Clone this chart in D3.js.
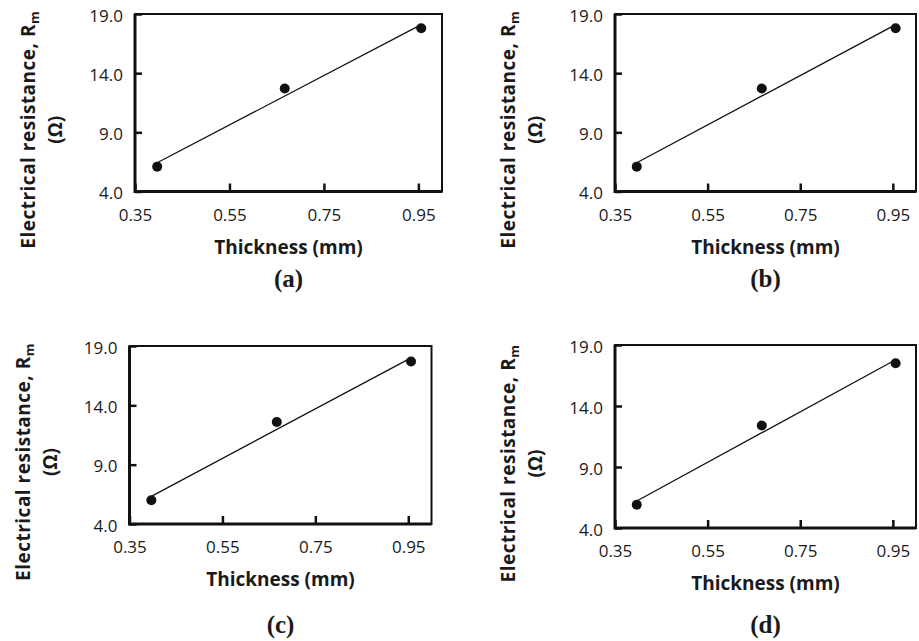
<!DOCTYPE html>
<html>
<head>
<meta charset="utf-8">
<script src="https://cdn.jsdelivr.net/npm/d3@7"></script>
<style>
    body { margin: 0; background: #fff; }
    text { fill: #1a1a1a; }
    .tick-label { font-family: "Open Sans", sans-serif; font-size: 17px; }
    .axis-title { font-family: "Open Sans", sans-serif; font-size: 19px; font-weight: bold; }
    .y-title { letter-spacing: 0.5px; }
    .panel-letter { font-family: "Liberation Serif", serif; font-size: 25px; font-weight: bold; }
</style>
</head>
<body>
<div id="chart"></div>
<script>
// data
var thickness = [0.397, 0.667, 0.956];
var resistanceA = [6.1, 12.7, 17.8];
var resistanceB = [6.1, 12.7, 17.8];
var resistanceC = [6.0, 12.6, 17.7];
var resistanceD = [5.9, 12.4, 17.5];
var xTicks = [0.35, 0.55, 0.75, 0.95];
var yTicks = [4.0, 9.0, 14.0, 19.0];
var panelLetters = ["(a)", "(b)", "(c)", "(d)"];

var w = 919;
var h = 641;

// layout of the four plot areas
var panels = [
    { values: resistanceA, left: 135, right: 442, top: 14, bottom: 191.5, letterY: 287 },
    { values: resistanceB, left: 615, right: 916, top: 14, bottom: 191.5, letterY: 287 },
    { values: resistanceC, left: 129.5, right: 431.5, top: 346, bottom: 524, letterY: 633 },
    { values: resistanceD, left: 615, right: 916, top: 345, bottom: 528, letterY: 633 }
];

var svg = d3.select("#chart")
    .append("svg")
    .attr("width", w)
    .attr("height", h);

panels.forEach(function(p, i) {
    var xScale = d3.scaleLinear().domain([0.35, 1.0]).range([p.left, p.right]);
    var yScale = d3.scaleLinear().domain([4, 19]).range([p.bottom, p.top]);
    var g = svg.append("g");

    // frame (top and right)
    g.append("rect")
        .attr("x", p.left)
        .attr("y", p.top)
        .attr("width", p.right - p.left)
        .attr("height", p.bottom - p.top)
        .attr("fill", "none")
        .attr("stroke", "#111")
        .attr("stroke-width", 2);

    // x axis with inward ticks
    var xAxis = d3.axisBottom(xScale)
        .tickValues(xTicks)
        .tickSize(-8)
        .tickFormat(d3.format(".2f"));
    var gx = g.append("g")
        .attr("transform", "translate(0," + p.bottom + ")")
        .call(xAxis);
    gx.selectAll(".tick line").attr("stroke", "#111").attr("stroke-width", 2.5);
    gx.selectAll(".tick text")
        .attr("class", "tick-label")
        .attr("font-family", null).attr("font-size", null)
        .attr("y", 29).attr("dy", null);

    // y axis with inward ticks
    var yAxis = d3.axisLeft(yScale)
        .tickValues(yTicks)
        .tickSize(-7)
        .tickFormat(d3.format(".1f"));
    var gy = g.append("g")
        .attr("transform", "translate(" + p.left + ",0)")
        .call(yAxis);
    gy.selectAll(".tick line").attr("stroke", "#111").attr("stroke-width", 2.5);
    gy.selectAll(".tick text")
        .attr("class", "tick-label")
        .attr("font-family", null).attr("font-size", null)
        .attr("x", -12).attr("dy", "0.42em");

    // heavier left and bottom axis lines
    gx.select(".domain").remove();
    gy.select(".domain").remove();
    g.append("line")
        .attr("x1", p.left).attr("x2", p.right)
        .attr("y1", p.bottom).attr("y2", p.bottom)
        .attr("stroke", "#111").attr("stroke-width", 3);
    g.append("line")
        .attr("x1", p.left).attr("x2", p.left)
        .attr("y1", p.top).attr("y2", p.bottom + 1.5)
        .attr("stroke", "#111").attr("stroke-width", 3);

    // linear trendline through the points
    var points = thickness.map(function(t, j) { return { x: t, y: p.values[j] }; });
    var mx = d3.mean(points, d => d.x);
    var my = d3.mean(points, d => d.y);
    var slope = d3.sum(points, d => (d.x - mx) * (d.y - my)) / d3.sum(points, d => (d.x - mx) * (d.x - mx));
    var x0 = d3.min(thickness), x1 = d3.max(thickness);
    var trend = [
        { x: x0, y: my + slope * (x0 - mx) },
        { x: x1, y: my + slope * (x1 - mx) }
    ];
    var line = d3.line()
        .x(d => xScale(d.x))
        .y(d => yScale(d.y));
    g.append("path")
        .datum(trend)
        .attr("d", line)
        .attr("stroke", "#111")
        .attr("stroke-width", 1.3)
        .attr("fill", "none");

    // data points
    g.selectAll("circle")
        .data(points)
        .enter()
        .append("circle")
        .attr("cx", d => xScale(d.x))
        .attr("cy", d => yScale(d.y))
        .attr("r", 5)
        .attr("fill", "#111");

    var cx = (p.left + p.right) / 2;
    var cy = (p.top + p.bottom) / 2 + 27;

    g.append("text")
        .attr("class", "axis-title")
        .attr("x", cx)
        .attr("y", p.bottom + 62)
        .attr("text-anchor", "middle")
        .text("Thickness (mm)");

    var yl = g.append("text")
        .attr("class", "axis-title y-title")
        .attr("transform", "translate(" + (p.left - 100) + "," + cy + ") rotate(-90)")
        .attr("text-anchor", "middle");
    yl.append("tspan").text("Electrical resistance, R");
    yl.append("tspan").attr("font-size", "13px").attr("dy", 4).text("m");
    g.append("text")
        .attr("class", "axis-title")
        .attr("transform", "translate(" + (p.left - 73) + "," + cy + ") rotate(-90)")
        .attr("text-anchor", "middle")
        .text("(Ω)");

    g.append("text")
        .attr("class", "panel-letter")
        .attr("x", cx)
        .attr("y", p.letterY)
        .attr("text-anchor", "middle")
        .text(panelLetters[i]);
});
</script>
</body>
</html>
